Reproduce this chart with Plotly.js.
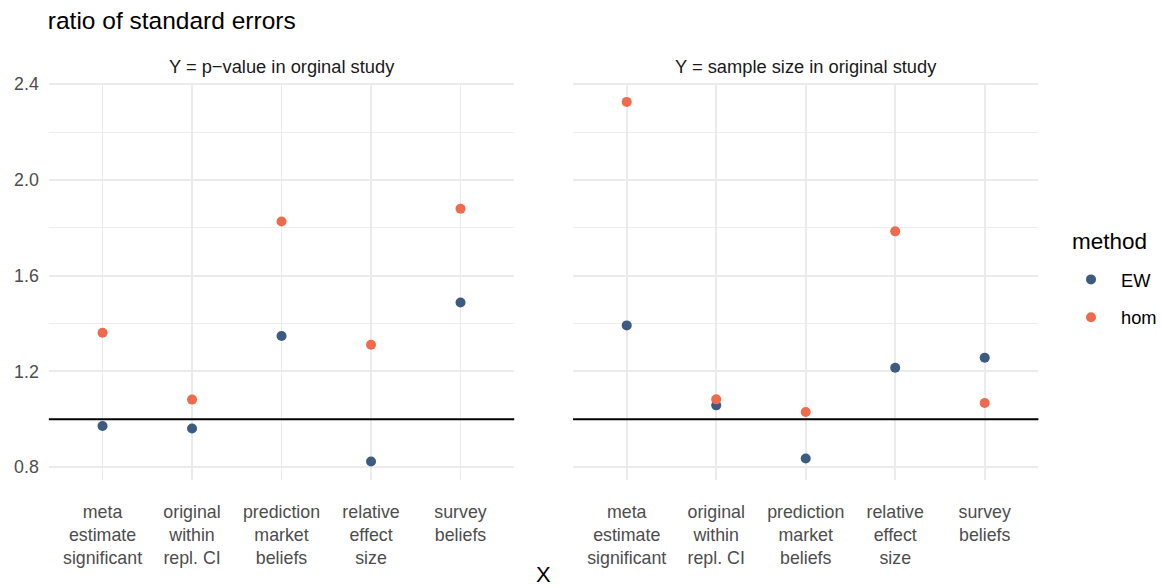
<!DOCTYPE html>
<html>
<head>
<meta charset="utf-8">
<script src="https://cdn.plot.ly/plotly-3.0.1.min.js"></script>
<style>body{margin:0;padding:0;background:#fff}#chart{width:1162px;height:588px}</style>
</head>
<body>
<div id="chart"></div>
<script>
const categories = ["meta estimate significant","original within repl. CI","prediction market beliefs","relative effect size","survey beliefs"];
const tickLabels = ["meta<br>estimate<br>significant","original<br>within<br>repl. CI","prediction<br>market<br>beliefs","relative<br>effect<br>size","survey<br>beliefs"];
const panelTitles = ["Y = p\u2212value in orginal study","Y = sample size in original study"];
const methods = ["EW","hom"];
const pvalueEW  = [0.972, 0.961, 1.348, 0.823, 1.488];
const pvalueHom = [1.361, 1.082, 1.826, 1.311, 1.880];
const sampleEW  = [1.392, 1.058, 0.836, 1.215, 1.257];
const sampleHom = [2.326, 1.083, 1.030, 1.785, 1.068];
const refLine = 1.0;
const yTicks = [0.8, 1.2, 1.6, 2.0, 2.4];
const yTickText = ["0.8","1.2","1.6","2.0","2.4"];

const colors = {EW: "#3D5A80", hom: "#EE6C4D"};
const FONT = "Liberation Sans, Arial, Helvetica, sans-serif";
const W = 1162, H = 588;
const AX = 17.8;

function mk(x, y, name, xa, ya, show) {
  return {type: "scatter", mode: "markers", x: x, y: y, name: name,
    xaxis: xa, yaxis: ya, showlegend: show, legendgroup: name,
    marker: {color: colors[name], size: 10}, hoverinfo: "x+y+name"};
}

const traces = [
  mk(categories, pvalueEW, methods[0], "x", "y", true),
  mk(categories, pvalueHom, methods[1], "x", "y", true),
  mk(categories, sampleEW, methods[0], "x2", "y2", false),
  mk(categories, sampleHom, methods[1], "x2", "y2", false)
];

const yRange = [0.746, 2.405];
const gridC = "#EBEBEB";
function xaxis(domain, anchor) {
  return {domain: domain, anchor: anchor, type: "category", range: [-0.6, 4.6],
    tickvals: categories, ticktext: tickLabels, showgrid: true, gridcolor: gridC, gridwidth: 1.8,
    zeroline: false, showline: false, ticks: "", ticklabelstandoff: 19,
    tickfont: {family: FONT, size: AX, color: "#4D4D4D"}, fixedrange: true};
}
function yaxis(domain, anchor, showLabels) {
  return {domain: domain, anchor: anchor, range: yRange, tickvals: yTicks, ticktext: yTickText,
    showticklabels: showLabels, showgrid: true, gridcolor: gridC, gridwidth: 1.8,
    minor: {tickvals: [1.0, 1.4, 1.8, 2.2], showgrid: true, gridcolor: gridC, gridwidth: 0.9, ticks: ""},
    zeroline: false, showline: false, ticks: "", ticklabelstandoff: 9,
    tickfont: {family: FONT, size: AX, color: "#4D4D4D"}, fixedrange: true};
}
const yDom = [(H - 480) / H, (H - 83) / H];
const layout = {
  width: W, height: H, margin: {l: 0, r: 0, t: 0, b: 0},
  paper_bgcolor: "#fff", plot_bgcolor: "#fff",
  font: {family: FONT},
  title: {text: "ratio of standard errors", x: 48 / W, xanchor: "left", xref: "paper",
    y: 1 - 20 / H, yanchor: "middle", yref: "paper", font: {family: FONT, size: 24.5, color: "#000"}},
  xaxis: xaxis([49 / W, 516 / W], "y"),
  yaxis: yaxis(yDom, "x", true),
  xaxis2: xaxis([575 / W, 1042 / W], "y2"),
  yaxis2: yaxis(yDom, "x2", false),
  shapes: [
    {type: "line", xref: "x domain", yref: "y", x0: 0, x1: 1, y0: refLine, y1: refLine, line: {color: "#000", width: 2}, layer: "above"},
    {type: "line", xref: "x2 domain", yref: "y2", x0: 0, x1: 1, y0: refLine, y1: refLine, line: {color: "#000", width: 2}, layer: "above"}
  ],
  annotations: [
    {text: panelTitles[0], xref: "paper", yref: "paper", x: (49 + 516) / 2 / W, y: 1 - 67 / H, showarrow: false,
      xanchor: "center", yanchor: "middle", font: {family: FONT, size: 18.3, color: "#1A1A1A"}},
    {text: panelTitles[1], xref: "paper", yref: "paper", x: (575 + 1042) / 2 / W, y: 1 - 67 / H, showarrow: false,
      xanchor: "center", yanchor: "middle", font: {family: FONT, size: 18.3, color: "#1A1A1A"}},
    {text: "X", xref: "paper", yref: "paper", x: 545 / W, y: 0, showarrow: false,
      xanchor: "center", yanchor: "bottom", borderpad: 0, font: {family: FONT, size: 22, color: "#000"}},
    {text: "method", xref: "paper", yref: "paper", x: 1074 / W, y: 1 - 241 / H, showarrow: false,
      xanchor: "left", yanchor: "middle", font: {family: FONT, size: 22.5, color: "#000"}}
  ],
  legend: {x: 1065 / W, xanchor: "left", y: 1 - 261 / H, yanchor: "top",
    font: {family: FONT, size: 18.3, color: "#000"}, bgcolor: "rgba(0,0,0,0)", tracegroupgap: 11,
    itemwidth: 50},
  showlegend: true
};
Plotly.newPlot("chart", traces, layout, {displayModeBar: false, staticPlot: true});
</script>
</body>
</html>
